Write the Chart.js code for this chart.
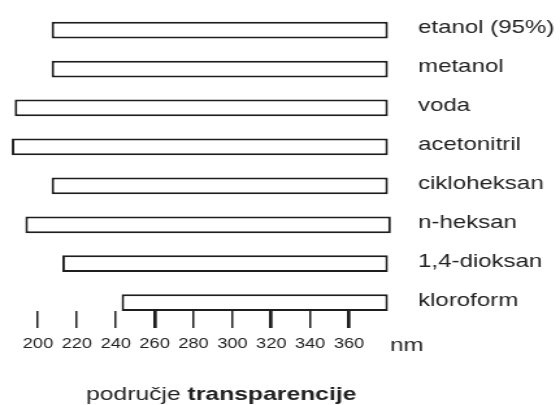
<!DOCTYPE html>
<html>
<head>
<meta charset="utf-8">
<title>Područje transparencije otapala</title>
<script src="https://cdn.jsdelivr.net/npm/chart.js@4/dist/chart.umd.min.js"></script>
<style>
  html, body { margin: 0; padding: 0; background: #fff; overflow: hidden; }
  /* the chart is laid out narrow and then widened, giving the broad lettering */
  #stage { width: 431px; height: 405px; transform: scaleX(1.2993); transform-origin: 0 0; }
  #c { display: block; }
</style>
</head>
<body>
<div id="stage"><canvas id="c" width="431" height="405"></canvas></div>
<script>
// Solvents and the wavelength range (nm) over which each is transparent
const solvents = ['etanol (95%)', 'metanol', 'voda', 'acetonitril', 'cikloheksan', 'n-heksan', '1,4-dioksan', 'kloroform'];
const cutoffStart = [207, 207, 188, 186.5, 207, 193.5, 212.5, 243];
const cutoffEnd = [380, 380, 380, 380, 380, 381.5, 380, 380];

// Wavelength axis
const wavelengthTicks = [200, 220, 240, 260, 280, 300, 320, 340, 360];
const unitLabel = 'nm';
const captionRegular = 'područje ';
const captionBold = 'transparencije';

const FAMILY = "'Liberation Sans', Arial, Helvetica, sans-serif";
const INK = '#1e1e1e';
const heavyTicks = new Set([260, 320, 360]);

const rows = solvents.map((name, i) => ({ y: i, x: [cutoffStart[i], cutoffEnd[i]] }));

// Unit beside the tick labels and the caption under the axis
const captionPlugin = {
  id: 'unitAndCaption',
  afterDraw(chart) {
    const { ctx, chartArea } = chart;
    ctx.save();
    ctx.fillStyle = '#222';
    ctx.textAlign = 'left';
    ctx.textBaseline = 'alphabetic';
    ctx.font = `18.5px ${FAMILY}`;
    ctx.fillText(unitLabel, chartArea.right - 4.3, 350.5);
    ctx.font = `19px ${FAMILY}`;
    let x = 66.2;
    ctx.fillText(captionRegular, x, 400);
    x += ctx.measureText(captionRegular).width;
    ctx.font = `bold 19px ${FAMILY}`;
    ctx.fillText(captionBold, x, 400);
    ctx.restore();
  }
};

new Chart(document.getElementById('c'), {
  type: 'bar',
  data: {
    datasets: [{
      data: rows,
      backgroundColor: '#ffffff',
      borderColor: INK,
      borderWidth: 2,
      borderSkipped: false,
      barPercentage: 0.43,
      categoryPercentage: 1
    }]
  },
  options: {
    indexAxis: 'y',
    responsive: false,
    devicePixelRatio: 1,
    animation: false,
    events: [],
    layout: { padding: { left: 5.3, top: 10.6, right: 0, bottom: 0 } },
    plugins: {
      legend: { display: false },
      tooltip: { enabled: false },
      title: { display: false }
    },
    scales: {
      x: {
        type: 'linear',
        position: 'bottom',
        min: 184,
        max: 384,
        afterBuildTicks: (scale) => { scale.ticks = wavelengthTicks.map(v => ({ value: v })); },
        afterFit: (scale) => { scale.height = 94; },
        border: { display: false },
        grid: {
          display: true,
          drawOnChartArea: false,
          drawTicks: true,
          tickLength: 17,
          color: INK,
          lineWidth: (ctx) => (ctx.tick && heavyTicks.has(ctx.tick.value)) ? 2.7 : 1.5
        },
        ticks: {
          autoSkip: false,
          maxRotation: 0,
          padding: 8,
          color: '#222',
          font: { family: FAMILY, size: 14 }
        }
      },
      y: {
        type: 'linear',
        position: 'right',
        reverse: true,
        offset: false,
        min: -0.5,
        max: 7.215,
        afterBuildTicks: (scale) => { scale.ticks = solvents.map((_, i) => ({ value: i })); },
        afterFit: (scale) => { scale.width = 126.45; },
        border: { display: false },
        // invisible tick marks keep the names clear of the bars
        grid: { display: true, offset: false, drawOnChartArea: false, drawTicks: true, tickLength: 17.2, lineWidth: 0, color: 'rgba(0,0,0,0)' },
        ticks: {
          padding: 0,
          labelOffset: -2,
          color: '#222',
          font: { family: FAMILY, size: 18.5, lineHeight: 1 },
          callback: (value) => solvents[value]
        }
      }
    }
  },
  plugins: [captionPlugin]
});
</script>
</body>
</html>
